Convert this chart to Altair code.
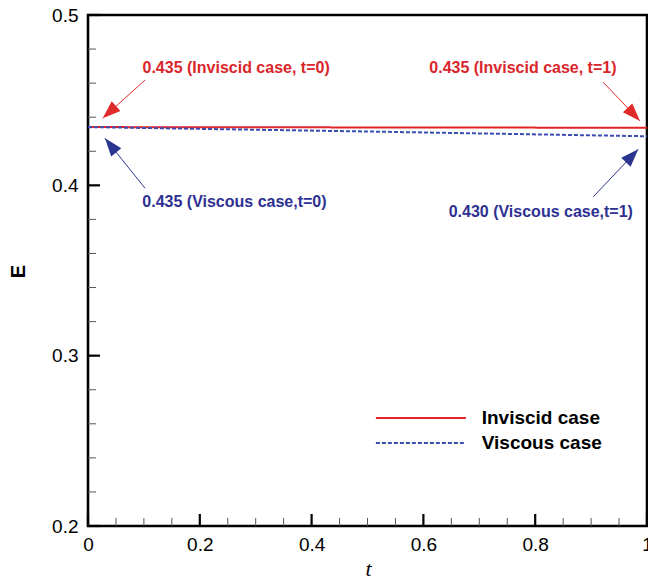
import math
import altair as alt
import pandas as pd

# ---------------- data ----------------
t_vals = [0.0, 0.25, 0.5, 0.75, 1.0]
inviscid_E = [0.4342, 0.4341, 0.4340, 0.4339, 0.4338]
viscous_E = [0.4342, 0.4329, 0.4316, 0.4302, 0.4288]
series_names = ["Inviscid case", "Viscous case"]

ann_text = ["0.435 (Inviscid case, t=0)", "0.435 (Viscous case,t=0)",
            "0.435 (Inviscid case, t=1)", "0.430 (Viscous case,t=1)"]
ann_kind = ["Inviscid", "Viscous", "Inviscid", "Viscous"]
ann_text_t = [0.265, 0.262, 0.778, 0.810]
ann_text_E = [0.4688, 0.3904, 0.4688, 0.3846]
arrow_start_t = [0.102, 0.102, 0.9218, 0.9040]
arrow_start_E = [0.4618, 0.3983, 0.4605, 0.3933]
arrow_tip_t = [0.0263, 0.0304, 0.9875, 0.9844]
arrow_tip_E = [0.4394, 0.4276, 0.4378, 0.4212]

x_major = [0.0, 0.2, 0.4, 0.6, 0.8, 1.0]
x_minor = [0.05, 0.1, 0.15, 0.25, 0.3, 0.35, 0.45, 0.5, 0.55, 0.65, 0.7, 0.75, 0.85, 0.9, 0.95]
y_major = [0.2, 0.3, 0.4, 0.5]
y_minor = [0.22, 0.24, 0.26, 0.28, 0.32, 0.34, 0.36, 0.38, 0.42, 0.44, 0.46, 0.48]

legend_line_t = [0.515, 0.676]
legend_label_t = 0.7043
legend_E = [0.2634, 0.2487]

# ---------------- layout / style ----------------
W, H = 559, 511
FONT = "Liberation Sans"
RED_LINE, BLUE_LINE = "#e2252b", "#3a4cb2"
RED_TXT, BLUE_TXT = "#d9262b", "#2e3192"
RED_ARW, BLUE_ARW = "#e02a2a", "#2b3590"

xscale = alt.Scale(domain=[0, 1], nice=False, zero=False)
yscale = alt.Scale(domain=[0.2, 0.5], nice=False, zero=False)
xaxis = alt.Axis(values=x_major, format=".1~f", domain=False, ticks=False, grid=False,
                 labelFont=FONT, labelFontSize=19, labelColor="black", labelPadding=9,
                 labelFlush=False, title="t", titleFont="Liberation Serif", titleFontStyle="italic",
                 titleFontWeight="normal", titleFontSize=22, titleColor="black",
                 titleX=280, titleY=49, titleBaseline="alphabetic", titleAlign="center")
yaxis = alt.Axis(values=y_major, format=".1f", domain=False, ticks=False, grid=False,
                 labelFont=FONT, labelFontSize=19, labelColor="black", labelPadding=10,
                 labelFlush=False, title="E", titleFont=FONT, titleFontWeight="bold",
                 titleFontSize=20, titleColor="black", titleAngle=270,
                 titleX=-70, titleY=256, titleAlign="center", titleBaseline="middle")


def X(field):
    return alt.X(field, type="quantitative", scale=xscale, axis=xaxis)


def Y(field):
    return alt.Y(field, type="quantitative", scale=yscale, axis=yaxis)


# line data
rows = []
for t, e in zip(t_vals, inviscid_E):
    rows.append({"t": t, "E": e, "series": series_names[0]})
for t, e in zip(t_vals, viscous_E):
    rows.append({"t": t, "E": e, "series": series_names[1]})
lines_df = pd.DataFrame(rows)

px_t = W / 1.0
px_E = H / 0.3
angles = []
for st, se, tt, te in zip(arrow_start_t, arrow_start_E, arrow_tip_t, arrow_tip_E):
    dx = (tt - st) * px_t
    dy = -(te - se) * px_E
    angles.append(math.degrees(math.atan2(dx, -dy)) % 360)

ann_df = pd.DataFrame({
    "text": ann_text, "kind": ann_kind,
    "tt": ann_text_t, "te": ann_text_E,
    "st": arrow_start_t, "se": arrow_start_E,
    "at": arrow_tip_t, "ae": arrow_tip_E, "angle": angles,
})

lines = alt.Chart(lines_df).mark_line(strokeWidth=2, clip=True).encode(
    x=X("t"), y=Y("E"),
    color=alt.Color("series:N", scale=alt.Scale(domain=series_names, range=[RED_LINE, BLUE_LINE]), legend=None),
    strokeDash=alt.StrokeDash("series:N", scale=alt.Scale(domain=series_names, range=[[1, 0], [4, 2]]), legend=None),
)

kind_color_arw = alt.Color("kind:N", scale=alt.Scale(domain=["Inviscid", "Viscous"], range=[RED_ARW, BLUE_ARW]), legend=None)
kind_color_txt = alt.Color("kind:N", scale=alt.Scale(domain=["Inviscid", "Viscous"], range=[RED_TXT, BLUE_TXT]), legend=None)

shafts = alt.Chart(ann_df).mark_rule(strokeWidth=1).encode(
    x=X("st"), y=Y("se"), x2="at", y2="ae",
    color=alt.Color("kind:N", scale=alt.Scale(domain=["Inviscid", "Viscous"], range=[RED_ARW, BLUE_ARW]), legend=None),
)
heads = alt.Chart(ann_df).mark_point(
    shape="M0,0L0.36,1L-0.36,1Z", filled=True, size=1296, opacity=1, strokeWidth=0
).encode(
    x=X("at"), y=Y("ae"), angle=alt.Angle("angle:Q", scale=None),
    color=alt.Color("kind:N", scale=alt.Scale(domain=["Inviscid", "Viscous"], range=[RED_ARW, BLUE_ARW]), legend=None),
)
texts = alt.Chart(ann_df).mark_text(font=FONT, fontSize=16, fontWeight="bold", baseline="middle", align="center").encode(
    x=X("tt"), y=Y("te"), text="text:N",
    color=alt.Color("kind:N", scale=alt.Scale(domain=["Inviscid", "Viscous"], range=[RED_TXT, BLUE_TXT]), legend=None),
)

# ticks (inside)
xmaj_df = pd.DataFrame({"v": x_major})
xmin_df = pd.DataFrame({"v": x_minor})
ymaj_df = pd.DataFrame({"v": y_major})
ymin_df = pd.DataFrame({"v": y_minor})

xmaj_ticks = alt.Chart(xmaj_df).mark_rule(color="black", strokeWidth=2.2).encode(
    x=X("v"), y=alt.value(H), y2=alt.value(H - 12))
xmin_ticks = alt.Chart(xmin_df).mark_rule(color="#555555", strokeWidth=1).encode(
    x=X("v"), y=alt.value(H), y2=alt.value(H - 8))
ymaj_ticks = alt.Chart(ymaj_df).mark_rule(color="black", strokeWidth=2.2).encode(
    y=Y("v"), x=alt.value(0), x2=alt.value(12))
ymin_ticks = alt.Chart(ymin_df).mark_rule(color="#555555", strokeWidth=1).encode(
    y=Y("v"), x=alt.value(0), x2=alt.value(8))

# manual legend
leg_rows = []
for name, e in zip(series_names, legend_E):
    leg_rows.append({"series": name, "t1": legend_line_t[0], "t2": legend_line_t[1], "tl": legend_label_t, "E": e})
leg_df = pd.DataFrame(leg_rows)
leg_lines = alt.Chart(leg_df).mark_rule(strokeWidth=2).encode(
    x=X("t1"), x2="t2", y=Y("E"),
    color=alt.Color("series:N", scale=alt.Scale(domain=series_names, range=[RED_LINE, BLUE_LINE]), legend=None),
    strokeDash=alt.StrokeDash("series:N", scale=alt.Scale(domain=series_names, range=[[1, 0], [4, 2]]), legend=None),
)
leg_text = alt.Chart(leg_df).mark_text(font=FONT, fontSize=19, fontWeight="bold", align="left",
                                       baseline="middle", color="black").encode(
    x=X("tl"), y=Y("E"), text="series:N")

chart = alt.layer(
    xmin_ticks, xmaj_ticks, ymin_ticks, ymaj_ticks,
    lines, shafts, heads, texts, leg_lines, leg_text,
).properties(
    width=W, height=H,
    autosize=alt.AutoSizeParams(type="none"),
    padding={"left": 88, "top": 15, "right": 1, "bottom": 54},
    background="white",
).configure_view(
    stroke="black", strokeWidth=2.6
).resolve_scale(color="independent", strokeDash="independent")

chart.save("out.html", embed_options={"renderer": "svg", "actions": False})
